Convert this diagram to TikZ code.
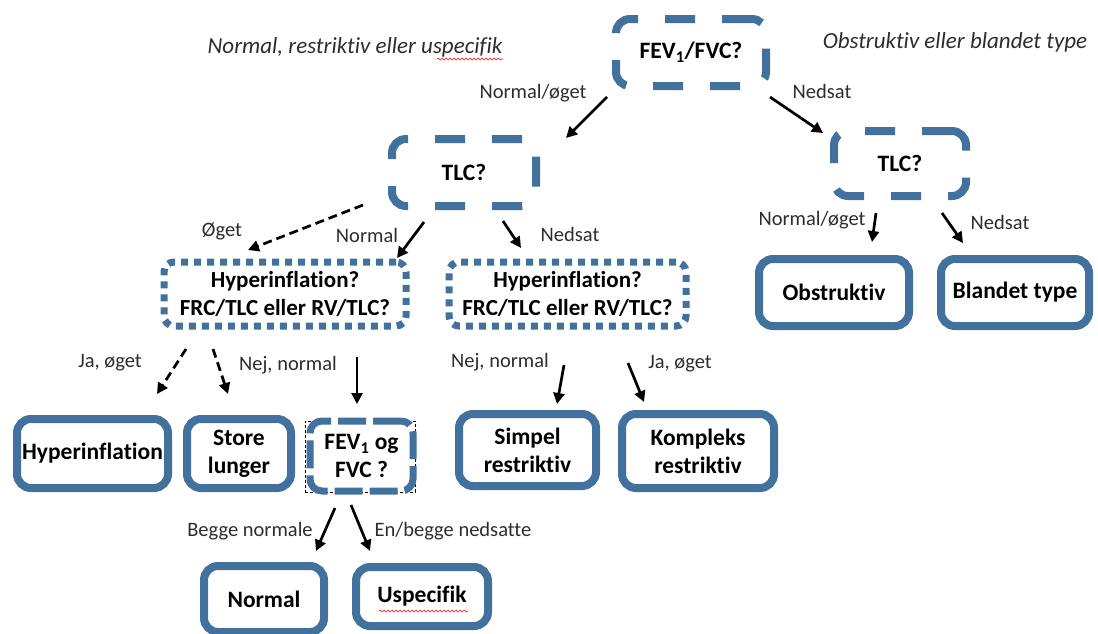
\documentclass[tikz,border=0pt]{standalone}
\usepackage{fontspec}
\setmainfont{Carlito}[Ligatures={NoCommon}]
\usetikzlibrary{arrows.meta,decorations.pathmorphing}
\definecolor{boxblue}{RGB}{65,113,156}
\definecolor{labgray}{RGB}{45,45,45}
\tikzset{
 base/.style={draw=boxblue, fill=white, line width=8pt, rounded corners=14pt, align=center, text=black,
   font=\fontsize{23.5}{28}\selectfont\bfseries, inner sep=0pt},
 solidbox/.style={base},
 dashbox/.style={base, dash pattern=on 30pt off 27pt},
 dashboxs/.style={base, line width=7pt, dash pattern=on 28pt off 7pt, rounded corners=12pt},
 dotbox/.style={base, line width=7pt, dash pattern=on 7pt off 6pt, rounded corners=10pt, font=\fontsize{23}{28}\selectfont\bfseries},
 arr/.style={line width=2.7pt, -{Triangle[length=11pt,width=11pt]}},
 darr/.style={arr, dash pattern=on 9pt off 5pt},
 lab/.style={font=\fontsize{20.5}{24}\selectfont, text=labgray, inner sep=0pt},
 head/.style={font=\fontsize{23}{27}\selectfont\itshape, text=labgray, inner sep=0pt},
 squiggle/.style={draw=red, line width=0.6pt, decorate, decoration={snake, amplitude=0.9pt, segment length=4pt}},
}
\begin{document}
\begin{tikzpicture}[x=1pt,y=-1pt]
\useasboundingbox (0,0) rectangle (1098,633);

% headings
\node[head] (h1) at (355,47) {Normal, restriktiv eller uspecifik};
\node[head] (h2) at (955,42) {Obstruktiv eller blandet type};
\coordinate (sq1a) at (437,59); \coordinate (sq1b) at (503,59);
\draw[squiggle] (sq1a) -- (sq1b);

% boxes
\node[dashbox, minimum width=150pt, minimum height=67pt] (fev) at (691,52.5) {FEV\textsubscript{1}/FVC?};
\node[dashbox, minimum width=144pt, minimum height=67pt] (tlcl) at (464,172.5) {TLC?};
\node[dashbox, minimum width=132pt, minimum height=65pt] (tlcr) at (900,163.5) {TLC?};
\node[dotbox, minimum width=242pt, minimum height=64pt] (hyp1) at (285,294) {Hyperinflation?\\FRC/TLC eller RV/TLC?};
\node[dotbox, minimum width=237pt, minimum height=64pt] (hyp2) at (567.5,294) {Hyperinflation?\\FRC/TLC eller RV/TLC?};
\node[solidbox, minimum width=150pt, minimum height=67pt] (obs) at (834,292.5) {Obstruktiv};
\node[solidbox, minimum width=148pt, minimum height=67pt] (bla) at (1015,292.5) {Blandet type};
\node[solidbox, minimum width=151pt, minimum height=69pt] (hin) at (92.5,453.5) {Hyperinflation};
\node[solidbox, minimum width=104pt, minimum height=69pt] (sto) at (239,453.5) {Store\\lunger};
\node[draw=black, line width=0.8pt, dash pattern=on 3pt off 2pt, minimum width=110pt, minimum height=71pt, inner sep=0pt] (fevogf) at (360,456.5) {};
\node[dashboxs, minimum width=103pt, minimum height=70pt] (fevog) at (361.5,456) {FEV\textsubscript{1} og\\FVC ?};
\node[solidbox, minimum width=137pt, minimum height=72pt] (sim) at (527.5,450) {Simpel\\restriktiv};
\node[solidbox, minimum width=152pt, minimum height=74pt] (kom) at (698,451) {Kompleks\\restriktiv};
\node[solidbox, minimum width=120pt, minimum height=66pt] (nor) at (264,599) {Normal};
\node[solidbox, minimum width=132pt, minimum height=59pt] (usp) at (422,596.5) {Uspecifik};
\coordinate (sq2a) at (379,611); \coordinate (sq2b) at (468,611);
\draw[squiggle] (sq2a) -- (sq2b);

% arrow coordinates
\coordinate (a1s) at (607,97);  \coordinate (a1e) at (566,138);
\coordinate (a2s) at (770,97);  \coordinate (a2e) at (823,133);
\coordinate (a3s) at (363,205); \coordinate (a3e) at (248,250);
\coordinate (a4s) at (424,222); \coordinate (a4e) at (397,258);
\coordinate (a5s) at (503,221); \coordinate (a5e) at (521,248);
\coordinate (a6s) at (876,213); \coordinate (a6e) at (872,242);
\coordinate (a7s) at (942,213); \coordinate (a7e) at (963,243);
\coordinate (a8s) at (186,349); \coordinate (a8e) at (157,394);
\coordinate (a9s) at (213,349); \coordinate (a9e) at (228,394);
\coordinate (a10s) at (357,357); \coordinate (a10e) at (357,404);
\coordinate (a11s) at (564,365); \coordinate (a11e) at (557,404);
\coordinate (a12s) at (628,363); \coordinate (a12e) at (644,402);
\coordinate (a13s) at (335,508); \coordinate (a13e) at (316,551);
\coordinate (a14s) at (351,505); \coordinate (a14e) at (370,551);

\draw[arr] (a1s) -- (a1e);
\draw[arr] (a2s) -- (a2e);
\draw[darr] (a3s) -- (a3e);
\draw[arr] (a4s) -- (a4e);
\draw[arr] (a5s) -- (a5e);
\draw[arr] (a6s) -- (a6e);
\draw[arr] (a7s) -- (a7e);
\draw[darr] (a8s) -- (a8e);
\draw[darr] (a9s) -- (a9e);
\draw[arr] (a10s) -- (a10e);
\draw[arr] (a11s) -- (a11e);
\draw[arr] (a12s) -- (a12e);
\draw[arr] (a13s) -- (a13e);
\draw[arr] (a14s) -- (a14e);

% labels
\node[lab] (l1) at (533,93) {Normal/øget};
\node[lab] (l2) at (822,91) {Nedsat};
\node[lab] (l3) at (222,231) {Øget};
\node[lab] (l4) at (367,235) {Normal};
\node[lab] (l5) at (570,234) {Nedsat};
\node[lab] (l6) at (812,220) {Normal/øget};
\node[lab] (l7) at (1000,222) {Nedsat};
\node[lab] (l8) at (110,363) {Ja, øget};
\node[lab] (l9) at (288,365) {Nej, normal};
\node[lab] (l10) at (500,362) {Nej, normal};
\node[lab] (l11) at (680,364) {Ja, øget};
\node[lab] (l12) at (250,531) {Begge normale};
\node[lab] (l13) at (453,531) {En/begge nedsatte};
\end{tikzpicture}
\end{document}
